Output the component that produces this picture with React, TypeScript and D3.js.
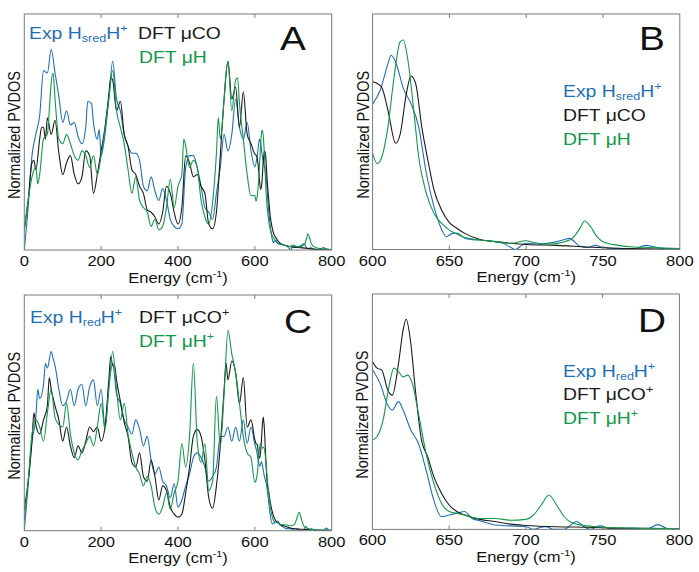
import * as d3 from 'd3';

type Pt = [number, number];

// ---- Hsred H+ / DFT µCO / DFT µH (panels A, B) ----
const expSredMain: Pt[] = [
  [0, 0], [10, 18], [20, 40], [30, 49], [40, 57], [50, 76], [60, 75], [70, 85], [80, 75], [90, 65],
  [100, 54], [110, 59], [120, 53], [130, 54], [140, 48], [150, 45], [160, 52], [165, 63], [175, 62], [180, 54],
  [190, 47], [195, 51], [200, 40], [210, 49], [220, 64], [230, 80], [240, 64], [250, 59], [260, 49], [270, 44],
  [280, 41], [290, 41], [300, 38], [310, 27], [320, 25], [330, 31], [340, 25], [350, 21], [360, 26], [370, 21],
  [380, 13], [390, 10], [400, 9], [410, 11], [420, 35], [430, 40], [440, 40], [450, 35], [460, 27], [470, 18],
  [480, 16], [490, 13], [500, 24], [510, 35], [520, 49], [530, 42], [540, 49], [550, 64], [560, 52], [570, 47],
  [580, 54], [590, 42],
];
const expSredTail: Pt[] = [
  [600, 35.2], [605, 38.6], [610, 45], [612, 47], [615, 45.4], [620, 39], [625, 35.3], [630, 29.7], [635, 18.4],
  [640, 10.3], [645, 4.8], [648, 3.1], [652, 3.9], [655, 4.0], [660, 2.7], [665, 2.4], [670, 2.3], [680, 1.9],
  [685, 1.5], [690, 0.5], [693, 0], [697, 1], [700, 1.5], [710, 1.3], [715, 1.6], [720, 1.9], [725, 2.4],
  [728, 2.7], [735, 0.8], [740, 0.5], [745, 1], [750, 0.5], [760, 0.2], [770, 0.2], [778, 1], [785, 0.5],
  [790, 0.2], [800, 0.2],
];
const dftCoMain: Pt[] = [
  [0, 9], [10, 21], [20, 37], [25, 38], [30, 34], [40, 47], [45, 52], [50, 52], [55, 47], [60, 56],
  [70, 49], [80, 55], [90, 41], [100, 32], [110, 37], [120, 40], [130, 32], [140, 28], [150, 31], [160, 42],
  [170, 40], [180, 24], [190, 32], [200, 42], [210, 52], [220, 66], [225, 73], [230, 72], [240, 59], [250, 63],
  [260, 49], [270, 44], [280, 34], [290, 32], [300, 27], [310, 24], [320, 17], [330, 16], [340, 14], [350, 11],
  [360, 16], [370, 27], [380, 24], [390, 16], [400, 11], [410, 18], [420, 40], [430, 37], [440, 31], [450, 32],
  [460, 27], [470, 24], [480, 11], [490, 9], [500, 16], [510, 40], [520, 64], [530, 80], [540, 64], [550, 69],
  [560, 52], [570, 67], [580, 49], [590, 45],
];
const dftCoTail: Pt[] = [
  [600, 40.6], [603, 40.2], [606, 39.2], [610, 33.7], [615, 25.7], [618, 28], [622, 37.8], [625, 42], [628, 40.2],
  [632, 29.7], [636, 21.6], [640, 14.4], [645, 9.5], [650, 6.5], [655, 5.1], [660, 3.9], [670, 2.4], [680, 1.9],
  [690, 1.5], [700, 1.2], [720, 1.0], [740, 0.6], [760, 0.3], [800, 0.1],
];
const dftHMain: Pt[] = [
  [0, 8], [10, 21], [20, 31], [30, 35], [35, 28], [40, 32], [50, 47], [60, 49], [65, 59], [70, 71],
  [75, 75], [80, 64], [90, 47], [100, 45], [110, 49], [120, 45], [130, 40], [140, 38], [150, 42], [160, 40],
  [170, 35], [180, 40], [190, 32], [200, 40], [210, 51], [220, 64], [230, 76], [240, 59], [250, 52], [260, 45],
  [270, 34], [280, 24], [290, 31], [300, 21], [310, 18], [320, 16], [330, 10], [340, 13], [350, 8.5], [360, 10],
  [370, 18], [380, 30], [390, 18], [400, 27], [410, 32], [415, 47], [420, 44], [430, 35], [440, 38], [450, 35],
  [460, 21], [470, 14], [480, 11], [490, 20], [500, 41], [505, 56], [510, 47], [520, 64], [525, 75], [530, 80],
  [540, 59], [550, 72], [555, 73], [560, 62], [570, 47], [580, 32], [590, 23],
];
const dftHTail: Pt[] = [
  [600, 23.2], [603, 20.8], [606, 22.4], [610, 29.7], [614, 41.8], [618, 50.3], [620, 50.7], [623, 45.8],
  [627, 32.9], [630, 22.4], [635, 13.6], [640, 8.7], [645, 6.3], [650, 4.7], [655, 3.7], [660, 2.9], [670, 2.3],
  [680, 1.9], [690, 1.5], [700, 2.1], [705, 1.7], [715, 1.3], [725, 1.9], [730, 2.7], [735, 5.1], [738, 6.9],
  [742, 5.5], [746, 3.1], [750, 1.9], [760, 1.0], [770, 0.6], [780, 0.5], [800, 0.2],
];

// ---- Hred H+ / DFT µCO+ / DFT µH+ (panels C, D) ----
const expRedMain: Pt[] = [
  [0, 0], [10, 19], [20, 38], [30, 48], [35, 60], [40, 56], [50, 62], [55, 71], [60, 69], [70, 76],
  [75, 73], [80, 70], [90, 60], [100, 53], [110, 55], [120, 60], [130, 53], [140, 60], [150, 62], [160, 53],
  [170, 61], [180, 64], [190, 53], [200, 60], [210, 44], [220, 61], [230, 71], [240, 58], [250, 54], [260, 47],
  [270, 44], [280, 41], [290, 47], [300, 43], [310, 36], [320, 40], [330, 30], [340, 24], [350, 27], [360, 21],
  [370, 19], [380, 14], [390, 20], [400, 10], [410, 13], [420, 19], [430, 24], [440, 31], [450, 33], [460, 31],
  [470, 27], [480, 21], [490, 23], [500, 27], [510, 40], [520, 40], [530, 44], [540, 38], [550, 44], [560, 38],
  [570, 47], [580, 37], [590, 44],
];
const expRedTail: Pt[] = [
  [600, 36.7], [605, 33.5], [610, 28.5], [613, 27.4], [617, 29.3], [620, 27.4], [625, 22.8], [630, 19.7],
  [635, 13.6], [640, 6.7], [645, 2.9], [650, 3.3], [655, 3.7], [660, 4.1], [665, 2.5], [670, 2.0], [680, 1.0],
  [690, 0.8], [700, 0.6], [705, 0], [710, 0.5], [713, 0.6], [718, 0], [725, 0], [733, 1.8], [738, 0.6],
  [742, 0], [748, 0.8], [755, 0.2], [770, 0], [780, 0.2], [786, 1.1], [792, 0.2], [800, 0],
];
const dftCoPlusMain: Pt[] = [
  [0, 9], [10, 21], [20, 38], [25, 50], [30, 45], [40, 41], [50, 47], [60, 53], [65, 65], [70, 60],
  [80, 53], [90, 47], [100, 38], [110, 44], [120, 36], [130, 31], [140, 36], [150, 33], [160, 38], [170, 44],
  [180, 42], [190, 44], [200, 38], [210, 44], [220, 64], [225, 74], [230, 70], [235, 70], [240, 64], [250, 55],
  [260, 46], [270, 40], [280, 29], [290, 27], [300, 33], [310, 23], [320, 21], [330, 30], [340, 23], [350, 13],
  [360, 19], [370, 17], [380, 10], [390, 7], [400, 5.7], [410, 7], [420, 16], [430, 27], [440, 40], [450, 43],
  [460, 40], [470, 30], [480, 14], [490, 9.5], [500, 19], [510, 36], [520, 60], [525, 71], [530, 64], [540, 72],
  [550, 67], [560, 54], [570, 65], [580, 44], [590, 47],
];
const dftCoPlusTail: Pt[] = [
  [600, 38.5], [603, 37], [606, 36.6], [610, 32], [613, 30.8], [617, 38], [620, 45.7], [622, 48.2], [625, 42.7],
  [628, 32], [632, 20.5], [636, 16.7], [640, 12.1], [645, 8.3], [650, 5.6], [655, 4.1], [660, 3.3], [670, 2.3],
  [680, 1.8], [690, 1.2], [700, 0.9], [720, 0.6], [740, 0.5], [760, 0.3], [800, 0.2],
];
const dftHPlusMain: Pt[] = [
  [0, 4.5], [10, 21], [20, 41], [30, 47], [40, 44], [50, 38], [60, 50], [70, 60], [80, 48], [90, 45],
  [100, 44], [110, 54], [120, 41], [130, 33], [140, 30], [150, 34], [160, 37], [170, 40], [180, 36], [190, 44],
  [200, 54], [210, 43], [220, 60], [230, 76], [240, 60], [250, 47], [260, 54], [270, 41], [280, 33], [290, 27],
  [300, 24], [310, 19], [320, 23], [330, 19], [340, 10], [350, 7], [360, 10], [370, 16], [380, 9], [390, 16],
  [400, 21], [410, 37], [420, 27], [430, 40], [440, 71], [450, 38], [460, 29], [470, 37], [480, 17], [490, 21],
  [500, 57], [510, 36], [520, 58], [530, 85], [540, 75], [550, 67], [560, 54], [570, 40], [580, 33], [590, 31],
];
const dftHPlusTail: Pt[] = [
  [600, 20.5], [603, 21.3], [607, 25.1], [610, 31.2], [614, 37], [617, 36.2], [620, 35], [623, 35.4], [626, 33.5],
  [630, 26.6], [635, 17.4], [640, 10.6], [645, 6], [650, 4.1], [655, 3.7], [660, 3.3], [670, 2.5], [680, 2.5],
  [690, 2.1], [700, 2.3], [705, 3.3], [710, 5.6], [715, 7.9], [720, 5.6], [725, 2.9], [730, 1.5], [740, 0.8],
  [750, 0.5], [770, 0.3], [800, 0.2],
];

const fullTicks = [0, 200, 400, 600, 800];
const zoomTicks = [600, 650, 700, 750, 800];

const BLUE = '#1f6fb8';
const BLACK = '#1a1a1a';
const GREEN = '#12984a';
const FRAME = '#7a7a7a';
const FONT = '"Liberation Sans", Arial, Helvetica, sans-serif';
const SX = 1.14; // figure is slightly stretched horizontally

interface PanelProps {
  id: string;
  x0: number; x1: number; y0: number; y1: number;
  xDomain: [number, number];
  yMax: number;
  ticks: number[];
  series: { data: Pt[]; color: string }[];
  letter: string;
  letterX: number; letterY: number;
  legend: React.ReactNode;
}

function Panel(p: PanelProps) {
  const x = d3.scaleLinear().domain(p.xDomain).range([p.x0, p.x1]);
  const y = d3.scaleLinear().domain([0, p.yMax]).range([p.y1, p.y0]);
  const line = d3.line<Pt>().x(d => x(d[0])).y(d => y(d[1])).curve(d3.curveMonotoneX);
  const inner = p.ticks.slice(1, -1);
  return (
    <g>
      <defs>
        <clipPath id={`clip-${p.id}`}>
          <rect x={p.x0} y={p.y0} width={p.x1 - p.x0} height={p.y1 - p.y0} />
        </clipPath>
      </defs>
      <g clipPath={`url(#clip-${p.id})`}>
        {p.series.map((s, i) => (
          <path key={i} d={line(s.data.filter(d => d[0] >= p.xDomain[0] - 10)) || ''}
            fill="none" stroke={s.color} strokeWidth={1.1} strokeLinejoin="round" />
        ))}
      </g>
      <rect x={p.x0} y={p.y0} width={p.x1 - p.x0} height={p.y1 - p.y0} fill="none" stroke={FRAME} strokeWidth={1} />
      {inner.map(t => (
        <g key={t}>
          <line x1={x(t)} x2={x(t)} y1={p.y1} y2={p.y1 - 4} stroke={FRAME} />
          <line x1={x(t)} x2={x(t)} y1={p.y0} y2={p.y0 + 4} stroke={FRAME} />
        </g>
      ))}
      {p.ticks.map(t => (
        <text key={t} transform={`translate(${x(t)},${p.y1 + 16}) scale(${SX},1)`} textAnchor="middle"
          fontSize={14.5} fill="#111">{t}</text>
      ))}
      <text transform={`translate(${(p.x0 + p.x1) / 2},${p.y1 + 32.5}) scale(${SX},1)`} textAnchor="middle"
        fontSize={14.5} fill="#111">
        Energy (cm<tspan fontSize={9.5} dy={-6}>-1</tspan><tspan dy={6}>)</tspan>
      </text>
      <text transform={`translate(${p.x0 - 4},${(p.y0 + p.y1) / 2 + 3}) scale(${SX},1) rotate(-90)`}
        textAnchor="middle" fontSize={14.5} fill="#111">Normalized PVDOS</text>
      <text transform={`translate(${p.letterX},${p.letterY}) scale(${SX},1)`} textAnchor="middle"
        fontSize={34} fill="#111">{p.letter}</text>
      {p.legend}
    </g>
  );
}

function L({ x, y, color, children }: { x: number; y: number; color: string; children: React.ReactNode }) {
  return (
    <text transform={`translate(${x},${y}) scale(${SX},1)`} fontSize={17} fill={color}>{children}</text>
  );
}

function ExpLabel({ sub }: { sub: string }) {
  return (
    <>
      Exp H<tspan fontSize={11} dy={3}>{sub}</tspan><tspan dy={-3}>H</tspan>
      <tspan fontSize={11} dy={-7}>+</tspan>
    </>
  );
}

export default function App() {
  const serA = [
    { data: [...expSredMain, ...expSredTail], color: BLUE },
    { data: [...dftCoMain, ...dftCoTail], color: BLACK },
    { data: [...dftHMain, ...dftHTail], color: GREEN },
  ];
  const serB = [
    { data: expSredTail, color: BLUE },
    { data: dftCoTail, color: BLACK },
    { data: dftHTail, color: GREEN },
  ];
  const serC = [
    { data: [...expRedMain, ...expRedTail], color: BLUE },
    { data: [...dftCoPlusMain, ...dftCoPlusTail], color: BLACK },
    { data: [...dftHPlusMain, ...dftHPlusTail], color: GREEN },
  ];
  const serD = [
    { data: expRedTail, color: BLUE },
    { data: dftCoPlusTail, color: BLACK },
    { data: dftHPlusTail, color: GREEN },
  ];
  return (
    <svg width={699} height={572} style={{ position: 'absolute', left: 0, top: 0, background: '#fff' }}
      fontFamily={FONT}>
      <rect width={699} height={572} fill="#fff" />
      <Panel id="A" x0={24.3} x1={331.7} y0={14} y1={250} xDomain={[0, 800]} yMax={100} ticks={fullTicks}
        series={serA} letter="A" letterX={293} letterY={50}
        legend={<>
          <L x={29} y={39} color={BLUE}><ExpLabel sub="sred" /></L>
          <L x={138} y={39} color={BLACK}>DFT μCO</L>
          <L x={139} y={63} color={GREEN}>DFT μH</L>
        </>} />
      <Panel id="B" x0={372.6} x1={679.8} y0={14} y1={249.5} xDomain={[600, 800]} yMax={57} ticks={zoomTicks}
        series={serB} letter="B" letterX={652} letterY={50}
        legend={<>
          <L x={563} y={97} color={BLUE}><ExpLabel sub="sred" /></L>
          <L x={563} y={121} color={BLACK}>DFT μCO</L>
          <L x={563} y={145} color={GREEN}>DFT μH</L>
        </>} />
      <Panel id="C" x0={24.3} x1={331.7} y0={295} y1={530.7} xDomain={[0, 800]} yMax={100} ticks={fullTicks}
        series={serC} letter="C" letterX={298} letterY={333}
        legend={<>
          <L x={30} y={323} color={BLUE}><ExpLabel sub="red" /></L>
          <L x={139} y={323} color={BLACK}>DFT μCO<tspan fontSize={11} dy={-7}>+</tspan></L>
          <L x={139} y={347} color={GREEN}>DFT μH<tspan fontSize={11} dy={-7}>+</tspan></L>
        </>} />
      <Panel id="D" x0={372.4} x1={679.4} y0={294} y1={529.4} xDomain={[600, 800]} yMax={54} ticks={zoomTicks}
        series={serD} letter="D" letterX={652} letterY={332}
        legend={<>
          <L x={563} y={377} color={BLUE}><ExpLabel sub="red" /></L>
          <L x={563} y={400} color={BLACK}>DFT μCO<tspan fontSize={11} dy={-7}>+</tspan></L>
          <L x={563} y={424} color={GREEN}>DFT μH<tspan fontSize={11} dy={-7}>+</tspan></L>
        </>} />
    </svg>
  );
}
